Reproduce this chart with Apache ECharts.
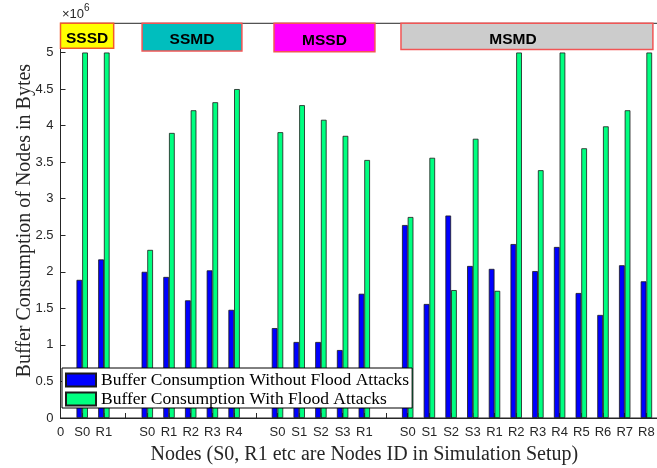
<!DOCTYPE html>
<html>
<head>
<meta charset="utf-8">
<script src="https://cdn.jsdelivr.net/npm/echarts@6/dist/echarts.min.js"></script>
<style>html,body{margin:0;padding:0;background:#fff;overflow:hidden;}#c{width:657px;height:468px;}</style>
</head>
<body>
<div id="c"></div>
<script>
// Node positions on the x axis (gaps at 3, 9, 15 separate the setups)
const positions = [1, 2, 4, 5, 6, 7, 8, 10, 11, 12, 13, 14, 16, 17, 18, 19, 20, 21, 22, 23, 24, 25, 26, 27];
const nodeNames = ['S0','R1','S0','R1','R2','R3','R4','S0','S1','S2','S3','R1','S0','S1','S2','S3','R1','R2','R3','R4','R5','R6','R7','R8'];
// values in units of 10^6 bytes
const withoutFlood = [1.89, 2.17, 2.00, 1.93, 1.61, 2.02, 1.48, 1.23, 1.04, 1.04, 0.93, 1.70, 2.64, 1.56, 2.77, 2.08, 2.04, 2.38, 2.01, 2.34, 1.71, 1.41, 2.09, 1.87];
const withFlood    = [5.00, 5.00, 2.30, 3.90, 4.21, 4.32, 4.50, 3.91, 4.28, 4.08, 3.86, 3.53, 2.75, 3.56, 1.75, 3.82, 1.74, 5.00, 3.39, 5.00, 3.69, 3.99, 4.21, 5.00];
const seriesNames = ['Buffer Consumption Without Flood Attacks', 'Buffer Consumption With Flood Attacks'];
const groupNames = ['SSSD', 'SSMD', 'MSSD', 'MSMD'];
const groupXStart = [0, 3.76, 9.84, 15.69];
const groupXEnd   = [2.45, 8.36, 14.49, 27.3];
const groupYBottom = [5.06, 5.02, 5.01, 5.04];
const groupColors = ['#ffff00', '#00bebe', '#ff00ff', '#cccccc'];
const groupBorders = ['#f25a2a', '#f25555', '#f25555', '#f25555'];
const groupLabelOffset = [[0, 3], [0, 3], [0, 3], [-14, 3]];

const tickLabels = {0: '0'};
positions.forEach((p, i) => { tickLabels[p] = nodeNames[i]; });

const chart = echarts.init(document.getElementById('c'));
const axisColor = '#262626';
const serif = '"Liberation Serif", "Times New Roman", serif';
const sans = '"Liberation Sans", Arial, Helvetica, sans-serif';

const markAreaData = groupNames.map((g, i) => [
  { name: g, coord: [groupXStart[i], groupYBottom[i]],
    itemStyle: { color: groupColors[i], borderColor: groupBorders[i], borderWidth: 1.5, opacity: 1 },
    label: { offset: groupLabelOffset[i] } },
  { coord: [groupXEnd[i], 5.4] }
]);

chart.setOption({
  animation: false,
  grid: { show: true, borderWidth: 1, borderColor: axisColor, backgroundColor: 'transparent',
    left: 60.5, right: -11.1, top: 23.3, bottom: 50, containLabel: false, outerBoundsMode: 'none' },
  xAxis: {
    type: 'value', min: 0, max: 28, interval: 1,
    name: 'Nodes (S0, R1 etc are Nodes ID in Simulation Setup)',
    nameLocation: 'middle', nameGap: 27, nameMoveOverlap: false,
    nameTextStyle: { fontFamily: serif, fontSize: 20, color: axisColor },
    axisLine: { show: true, lineStyle: { color: axisColor, width: 1 } },
    axisTick: { show: true, inside: true, length: 5, lineStyle: { color: axisColor } },
    axisLabel: { margin: 8, fontFamily: sans, fontSize: 13, color: axisColor,
      formatter: v => (tickLabels[v] !== undefined ? tickLabels[v] : '') },
    splitLine: { show: false }
  },
  yAxis: {
    type: 'value', min: 0, max: 5.4, interval: 0.5,
    name: 'Buffer Consumption of Nodes in Bytes',
    nameLocation: 'middle', nameGap: 26, nameRotate: 90, nameMoveOverlap: false,
    nameTextStyle: { fontFamily: serif, fontSize: 20, color: axisColor },
    axisLine: { show: true, lineStyle: { color: axisColor, width: 1 } },
    axisTick: { show: true, inside: true, length: 5, lineStyle: { color: axisColor } },
    axisLabel: { margin: 7, fontFamily: sans, fontSize: 13, color: axisColor, showMaxLabel: false },
    splitLine: { show: false }
  },
  legend: {
    orient: 'vertical', left: 62, top: 368,
    padding: [3, 3, 0, 3], itemGap: 1,
    itemWidth: 30, itemHeight: 13,
    backgroundColor: '#fff', borderColor: '#000', borderWidth: 1,
    textStyle: { fontFamily: serif, fontSize: 17.5, color: '#000', lineHeight: 13 },
    data: seriesNames.map(n => ({ name: n, icon: 'rect' })),
    z: 10
  },
  graphic: [{
    type: 'text', left: 62, top: 3,
    style: {
      text: '{a|×10}{b|6}',
      rich: {
        a: { fontFamily: sans, fontSize: 13, fill: axisColor, verticalAlign: 'bottom', lineHeight: 18 },
        b: { fontFamily: sans, fontSize: 10, fill: axisColor, verticalAlign: 'top', lineHeight: 18, padding: [0, 0, 6, 0] }
      }
    }
  }],
  series: [{
    name: seriesNames[0], type: 'bar', barWidth: 5.7, barGap: '0%',
    data: positions.map((p, i) => [p, withoutFlood[i]]),
    itemStyle: { color: '#0000ff', borderColor: '#1a1a1a', borderWidth: 0.8 },
    markArea: {
      silent: true,
      label: { show: true, position: 'inside', fontFamily: sans, fontWeight: 'bold', fontSize: 15.5, color: '#000' },
      data: markAreaData
    }
  }, {
    name: seriesNames[1], type: 'bar', barWidth: 5.7, barGap: '0%',
    data: positions.map((p, i) => [p, withFlood[i]]),
    itemStyle: { color: '#00ff80', borderColor: '#1a1a1a', borderWidth: 0.8 }
  }]
});
</script>
</body>
</html>
